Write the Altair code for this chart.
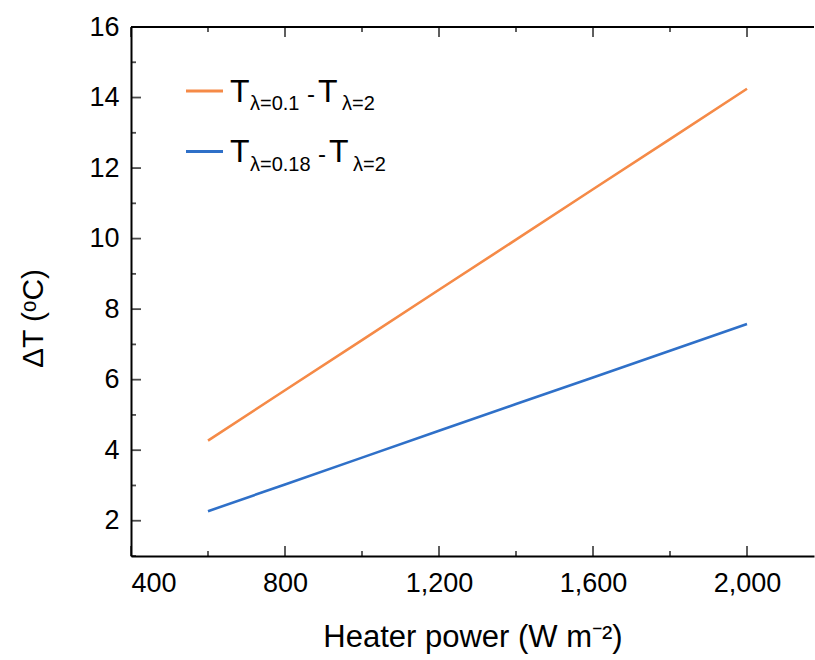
import altair as alt
import pandas as pd

# ---- data ----
power = [600, 800, 1000, 1200, 1400, 1600, 1800, 2000]
dt_01 = [4.27, 5.70, 7.12, 8.55, 9.97, 11.40, 12.82, 14.25]
dt_018 = [2.27, 3.03, 3.79, 4.55, 5.31, 6.06, 6.82, 7.58]
series_names = ["T_λ=0.1 - T_λ=2", "T_λ=0.18 - T_λ=2"]
series_colors = ["#F58A47", "#2F70C8"]

x_major = [400, 800, 1200, 1600, 2000]
x_minor = [600, 1000, 1400, 1800]
y_major = [2, 4, 6, 8, 10, 12, 14, 16]
y_minor = [1, 3, 5, 7, 9, 11, 13, 15]

legend_rows = [
    ["T", "λ=0.1", "-", "T", "λ=2"],
    ["T", "λ=0.18", "-", "T", "λ=2"],
]

rows = []
for p, a, b in zip(power, dt_01, dt_018):
    rows.append({"x": p, "y": a, "series": series_names[0]})
    rows.append({"x": p, "y": b, "series": series_names[1]})
df = pd.DataFrame(rows)

FONT = "Liberation Sans"
W, H = 683, 529
xs = alt.Scale(domain=[400, 2174], nice=False, zero=False)
ys = alt.Scale(domain=[1, 16], nice=False, zero=False)

lines = alt.Chart(df).mark_line(strokeWidth=2.6).encode(
    x=alt.X("x:Q", scale=xs, axis=alt.Axis(
        orient="bottom", values=x_major, format=",d", ticks=False, grid=False,
        domain=True, domainColor="black", domainWidth=2,
        labelFont=FONT, labelFontSize=27, labelColor="black", labelPadding=14,
        title="Heater power (W m⁻²)", titleFont=FONT, titleFontSize=31,
        titleFontWeight="normal", titleColor="black", titlePadding=26)),
    y=alt.Y("y:Q", scale=ys, axis=alt.Axis(
        orient="left", values=y_major, ticks=False, grid=False,
        domain=True, domainColor="black", domainWidth=2,
        labelFont=FONT, labelFontSize=27, labelColor="black", labelPadding=12,
        title="ΔT (ᵒC)", titleFont=FONT, titleFontSize=30, titleY=291,
        titleFontWeight="normal", titleColor="black", titlePadding=40)),
    color=alt.Color("series:N", scale=alt.Scale(domain=series_names, range=series_colors),
                    legend=None),
)

def xticks(values, y_center, size):
    d = pd.DataFrame({"v": values})
    return alt.Chart(d).mark_tick(color="black", thickness=1.8, size=size).encode(
        x=alt.X("v:Q", scale=xs), y=alt.value(y_center))

def yticks(values, x_center, size):
    d = pd.DataFrame({"v": values})
    return alt.Chart(d).mark_tick(color="black", thickness=1.8, size=size).encode(
        y=alt.Y("v:Q", scale=ys), x=alt.value(x_center))

tick_layers = [
    xticks(x_major, H - 5, 10), xticks(x_minor, H - 2.5, 5),
    xticks(x_major, 5, 10), xticks(x_minor, 2.5, 5),
    yticks(y_major, 5, 10), yticks(y_minor, 2.5, 5),
]

one = pd.DataFrame({"k": [0]})
top_line = alt.Chart(one).mark_rule(color="black", strokeWidth=2).encode(
    x=alt.value(0), x2=alt.value(W), y=alt.value(0))

# ---- legend built from text/rule marks ----
legend_layers = []
row_y = [91, 151.5]
big_x = [[230, 318], [230, 329]]
sub_x = [[250, 342], [250, 353]]
dash_x = [307, 318]
for i in range(2):
    by = row_y[i] + 10.5
    sy = row_y[i] + 19
    legend_layers.append(alt.Chart(one).mark_rule(color=series_colors[i], strokeWidth=3).encode(
        x=alt.value(186 - 131), x2=alt.value(223 - 131), y=alt.value(row_y[i] - 27)))
    segs = legend_rows[i]
    spec = [(segs[0], big_x[i][0], by, 32), (segs[1], sub_x[i][0], sy, 20),
            (segs[2], dash_x[i], by, 24), (segs[3], big_x[i][1], by, 32),
            (segs[4], sub_x[i][1], sy, 20)]
    for txt, tx, ty, fs in spec:
        legend_layers.append(alt.Chart(one).mark_text(
            align="left", baseline="alphabetic", font=FONT, fontSize=fs, color="black").encode(
            x=alt.value(tx - 131), y=alt.value(ty - 27), text=alt.value(txt)))

chart = alt.layer(lines, *tick_layers, top_line, *legend_layers).properties(
    width=W, height=H,
    padding={"left": 131, "top": 27, "right": 1, "bottom": 104},
    autosize=alt.AutoSizeParams(type="none"),
    background="white",
).configure_view(stroke=None)

chart.save("out.html", embed_options={"renderer": "svg", "actions": False})
